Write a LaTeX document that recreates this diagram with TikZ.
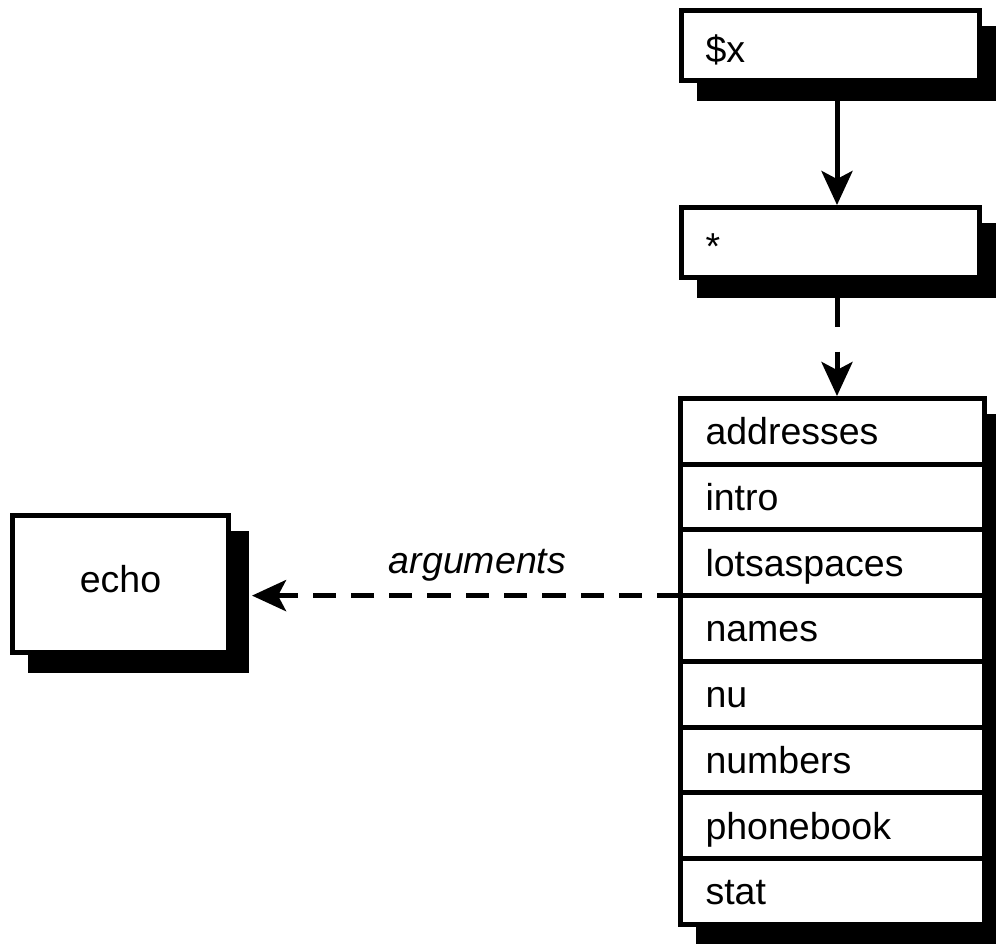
\documentclass[tikz,border=0pt]{standalone}
\usepackage{fontspec}
\setmainfont{Liberation Sans}
\usetikzlibrary{arrows.meta,backgrounds,calc}
\begin{document}
\begin{tikzpicture}[x=1pt,y=-1pt,
  lbl/.style={font=\fontsize{37.5}{45}\selectfont},
  topbox/.style={lbl, draw, line width=5pt, fill=white, outer sep=0pt, inner xsep=24pt, inner ysep=0pt, text width=250pt, minimum height=70pt, align=left, text height=33pt, text depth=0pt},
  row/.style={lbl, draw, line width=5pt, fill=white, outer sep=0pt, inner xsep=25pt, inner ysep=0pt, text width=254pt, minimum height=65.7pt, align=left, text height=27pt, text depth=0pt},
  echobox/.style={lbl, draw, line width=5pt, fill=white, outer sep=0pt, inner sep=0pt, minimum width=216pt, minimum height=137pt, text height=17.3pt, text depth=0pt},
  shadowbox/.style={fill=black, draw=none, inner sep=0pt, outer sep=0pt},
  arr/.style={line width=5pt, -{Stealth[length=34pt,width=31pt,inset=8pt]}},
  arglabel/.style={font=\fontsize{37.5}{45}\selectfont\itshape, inner sep=0pt}
]
\useasboundingbox (0,0) rectangle (996,943);

\node[topbox] (sx) at (830.5,45.5) {\$x};
\node[topbox] (star) at (830.5,242.5) {*};

\node[row] (r1) at (832.5,431.35) {addresses};
\node[row] (r2) at (832.5,497.05) {intro};
\node[row] (r3) at (832.5,562.75) {lotsaspaces};
\node[row] (r4) at (832.5,628.45) {names};
\node[row] (r5) at (832.5,694.15) {nu};
\node[row] (r6) at (832.5,759.85) {numbers};
\node[row] (r7) at (832.5,825.55) {phonebook};
\node[row] (r8) at (832.5,891.25) {stat};

\node[echobox] (echo) at (120.5,584) {echo};

\begin{scope}[on background layer]
\node[shadowbox, minimum width=303pt, minimum height=75pt] (sxs) at ($(sx)+(17.5,17.5)$) {};
\node[shadowbox, minimum width=303pt, minimum height=75pt] (stars) at ($(star)+(17.5,17.5)$) {};
\node[shadowbox, minimum width=309pt, minimum height=530.6pt] (lists) at (850,678.8) {};
\node[shadowbox, minimum width=221pt, minimum height=142pt] (echos) at ($(echo)+(17.5,17.5)$) {};
\end{scope}

\coordinate (ax) at (837,0);
\draw[arr, shorten >=2.5pt] (sxs.south -| ax) -- (star.north -| ax);
\draw[arr, dash pattern=on 29pt off 25pt, shorten >=2.5pt] (stars.south -| ax) -- (r1.north -| ax);
\draw[arr, dash pattern=on 23.3pt off 15pt, shorten >=3.5pt] (r3.south west) -- (r3.south west -| echos.east)
  node[arglabel, pos=0.47, anchor=base, yshift=22.6pt] (args) {arguments};
\end{tikzpicture}
\end{document}
